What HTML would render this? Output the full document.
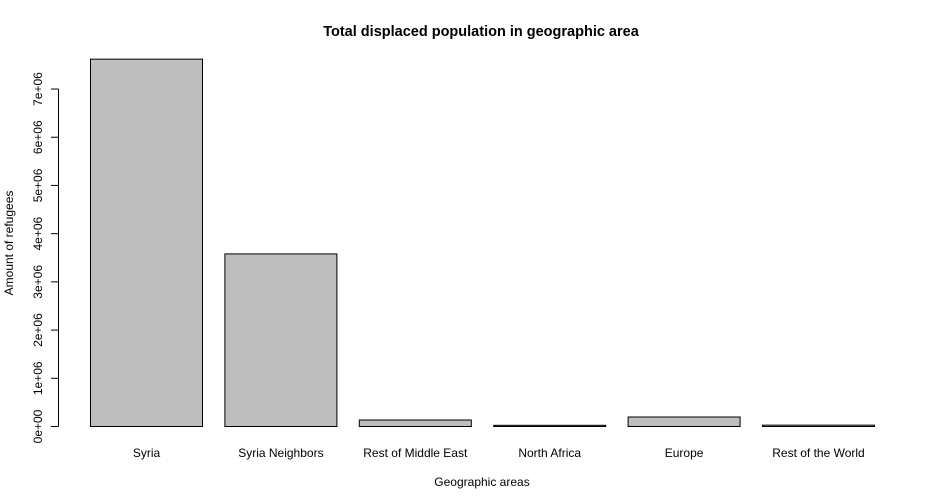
<!DOCTYPE html>
<html><head><meta charset="utf-8"><style>
html,body{margin:0;padding:0;background:#fff;}
svg{display:block;font-family:"Liberation Sans",Arial,sans-serif;}
</style></head><body>
<svg id="chart" width="936" height="504" viewBox="0 0 936 504">
<text x="481" y="36" text-anchor="middle" font-size="14.5" font-weight="bold">Total displaced population in geographic area</text>
<text x="482" y="486" text-anchor="middle" font-size="12">Geographic areas</text>
<text transform="translate(13,243) rotate(-90)" text-anchor="middle" font-size="12">Amount of refugees</text>
<g id="bars"></g>
<g id="yaxis"></g>
</svg>
<script>
const categories=["Syria","Syria Neighbors","Rest of Middle East","North Africa","Europe","Rest of the World"];
const values=[7620000,3580000,135000,25000,197000,28000];
const yTicks=[0,1e6,2e6,3e6,4e6,5e6,6e6,7e6];
const yTickLabels=["0e+00","1e+06","2e+06","3e+06","4e+06","5e+06","6e+06","7e+06"];
const NS="http://www.w3.org/2000/svg";
const y0=426.5, pxPer=48.21/1e6;
function yScale(v){return y0-v*pxPer;}
function xLeft(i){return 90.5+i*134.4;}
const barW=112;
const bars=document.getElementById('bars');
categories.forEach((c,i)=>{
  const r=document.createElementNS(NS,'rect');
  
  
  const t=yScale(values[i]);
  r.setAttribute('x',xLeft(i));r.setAttribute('y',t);
  r.setAttribute('width',barW);r.setAttribute('height',Math.max(0,y0-t));
  r.setAttribute('fill','#bebebe');r.setAttribute('stroke','#000');r.setAttribute('stroke-width','1');
  bars.appendChild(r);
  const tx=document.createElementNS(NS,'text');
  
  
  tx.setAttribute('x',xLeft(i)+barW/2);tx.setAttribute('y',457);
  tx.setAttribute('text-anchor','middle');tx.setAttribute('font-size','12');
  tx.textContent=c;bars.appendChild(tx);
});
const ya=document.getElementById('yaxis');
const ln=document.createElementNS(NS,'line');


ln.setAttribute('x1',58.5);ln.setAttribute('x2',58.5);
ln.setAttribute('y1',yScale(yTicks[0]));ln.setAttribute('y2',yScale(yTicks[yTicks.length-1]));
ln.setAttribute('stroke','#000');ya.appendChild(ln);
yTicks.forEach((v,i)=>{
  const y=yScale(v);
  const tk=document.createElementNS(NS,'line');
  
  
  tk.setAttribute('x1',51);tk.setAttribute('x2',58.5);tk.setAttribute('y1',y);tk.setAttribute('y2',y);
  tk.setAttribute('stroke','#000');ya.appendChild(tk);
  const lb=document.createElementNS(NS,'text');
  
  
  lb.setAttribute('transform','translate(42,'+y+') rotate(-90)');
  lb.setAttribute('text-anchor','middle');lb.setAttribute('font-size','12');
  lb.textContent=yTickLabels[i];ya.appendChild(lb);
});
</script>
</body></html>
